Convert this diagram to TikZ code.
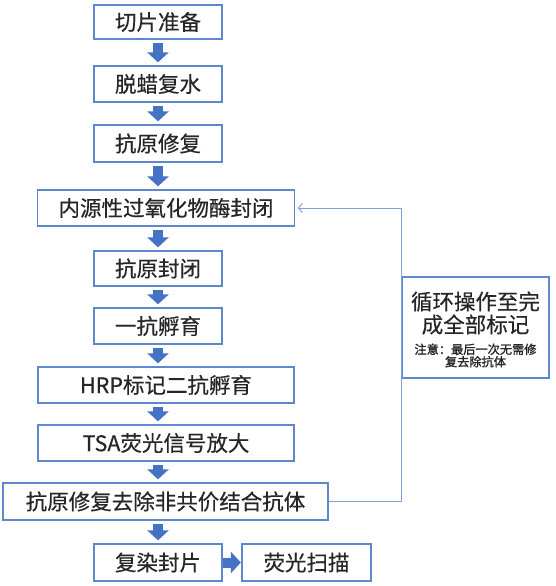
\documentclass[tikz,border=0pt]{standalone}
\usepackage{fontspec}
\setmainfont{Noto Sans CJK SC}[FakeBold=0.4]
\newfontfamily\notefont{Noto Sans CJK SC}[FakeBold=1.4]
\usetikzlibrary{arrows.meta}
\definecolor{boxline}{RGB}{95,135,205}
\definecolor{arrowblue}{RGB}{68,114,196}
\definecolor{loopblue}{RGB}{130,160,215}
\definecolor{txt}{RGB}{38,38,38}
\tikzset{
  stepbox/.style={draw=boxline, line width=1.3pt, fill=white, inner sep=0pt,
    text=txt, font=\fontsize{21.5}{23}\selectfont, minimum width=128pt, anchor=center},
  blockarrow/.style={draw=arrowblue, line width=10pt,
    -{Triangle[width=21pt 0 0,length=10pt 0 0]}, shorten <=3pt, shorten >=3pt},
  loopline/.style={draw=loopblue, line width=1pt,
    -{Straight Barb[length=4pt,width=9pt,line width=1pt]}, shorten >=2.5pt},
}
\begin{document}
\begin{tikzpicture}[x=1pt,y=1pt]
\useasboundingbox (0,0) rectangle (555,-586);
\node[stepbox, minimum height=34pt] (b1) at (158,-22) {切片准备};
\node[stepbox, minimum height=36pt] (b2) at (158,-84) {脱蜡复水};
\node[stepbox, minimum height=37pt] (b3) at (158,-143.5) {抗原修复};
\node[stepbox, minimum height=36pt, minimum width=257pt] (b4) at (166,-208) {内源性过氧化物酶封闭};
\node[stepbox, minimum height=35pt] (b5) at (158,-268.5) {抗原封闭};
\node[stepbox, minimum height=36pt] (b6) at (158,-326) {一抗孵育};
\node[stepbox, minimum height=36pt, minimum width=256pt] (b7) at (166,-385) {HRP标记二抗孵育};
\node[stepbox, minimum height=36pt, minimum width=256pt] (b8) at (166,-443) {TSA荧光信号放大};
\node[stepbox, minimum height=37pt, minimum width=325pt] (b9) at (165.5,-501.5) {抗原修复去除非共价结合抗体};
\node[stepbox, minimum height=37pt] (b10) at (158,-562.5) {复染封片};
\node[stepbox, minimum height=37pt, minimum width=129pt] (b11) at (306.5,-562.5) {荧光扫描};
\node[stepbox, minimum height=101pt, minimum width=147pt] (loop) at (475.5,-327.5) {};
\node[text=txt, align=center, inner sep=0pt, font=\fontsize{21.5}{23}\selectfont] (looptxt) at (475.5,-313) {循环操作至完\\成全部标记};
\node[text=txt, align=center, inner sep=0pt, font=\notefont\fontsize{12.2}{11}\selectfont] (loopnote) at (475.5,-355.5) {注意：最后一次无需修\\复去除抗体};
\draw[blockarrow] (b1.south) -- (b2.north);
\draw[blockarrow] (b2.south) -- (b3.north);
\draw[blockarrow] (b3.south) -- (b4.north -| b3.south);
\draw[blockarrow] (b4.south -| b5.north) -- (b5.north);
\draw[blockarrow] (b5.south) -- (b6.north);
\draw[blockarrow] (b6.south) -- (b7.north -| b6.south);
\draw[blockarrow] (b7.south -| b6.south) -- (b8.north -| b6.south);
\draw[blockarrow] (b8.south -| b6.south) -- (b9.north -| b6.south);
\draw[blockarrow] (b9.south -| b10.north) -- (b10.north);
\draw[blockarrow, shorten <=0.5pt, shorten >=0.5pt] (b10.east) -- (b11.west);
\draw[loopline] (b9.east) -| (loop.west |- b4.east) -- (b4.east);
\end{tikzpicture}
\end{document}
